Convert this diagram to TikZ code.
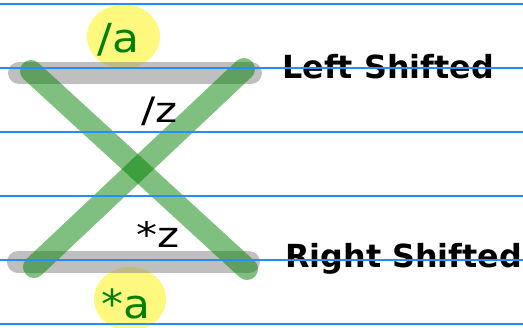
\documentclass[tikz,border=0pt]{standalone}
\usepackage{fontspec}
\setmainfont{DejaVu Sans}
\definecolor{txtgreen}{RGB}{0,128,0}
\definecolor{gridblue}{RGB}{40,140,255}
\newcommand{\wideA}[1]{\scalebox{1.1}[1]{#1}}
\newcommand{\wideB}[1]{\scalebox{1.2}[1]{#1}}
\begin{document}
\begin{tikzpicture}[x=1pt,y=-1pt,
  gridline/.style={draw=gridblue,line width=1.3pt},
  bar/.style={draw=black!50,draw opacity=0.5,line width=22pt,line cap=round},
  cross/.style={draw=txtgreen,draw opacity=0.5,line width=22pt,line cap=round},
  blob/.style={fill=yellow,fill opacity=0.5},
  greenlbl/.style={text=txtgreen,font=\fontsize{40}{40}\selectfont,inner sep=0pt,anchor=base west},
  blacklbl/.style={text=black,font=\fontsize{35}{35}\selectfont,inner sep=0pt,anchor=base west},
  sidelbl/.style={text=black,font=\fontsize{31.8}{31.8}\selectfont\bfseries,inner sep=0pt,anchor=base west}]
\useasboundingbox (0,0) rectangle (523,328);
% yellow highlights
\fill[blob] (123.5,36.5) ellipse [x radius=36.5,y radius=32];
\fill[blob] (130,299) ellipse [x radius=36,y radius=32];
% gray bars
\coordinate (tl) at (19,73);
\coordinate (tr) at (251,73);
\coordinate (bl) at (18,262);
\coordinate (br) at (249,262);
\draw[bar] (tl) -- (tr);
\draw[bar] (bl) -- (br);
% green cross
\coordinate (ga) at (31,71);
\coordinate (gb) at (247,269);
\coordinate (gc) at (244,69);
\coordinate (gd) at (34,267);
\draw[cross] (ga) -- (gb);
\draw[cross] (gc) -- (gd);
% labels
\node[greenlbl] (sa) at (97,53) {\wideA{/a}};
\node[greenlbl] (stara) at (101,319) {\wideA{*a}};
\node[blacklbl] (sz) at (141,123) {\wideB{/z}};
\node[blacklbl] (starz) at (136,248) {\wideB{*z}};
\node[sidelbl] (left) at (282,79) {Left Shifted};
\node[sidelbl] (right) at (285,268) {Right Shifted};
% blue ruled lines
\foreach \yy in {4,68,132,196,260,324}
  \draw[gridline] (0,\yy) -- (523,\yy);
\end{tikzpicture}
\end{document}
